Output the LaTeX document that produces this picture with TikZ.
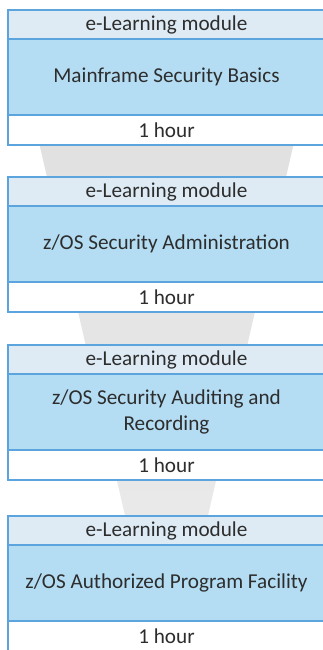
\documentclass[tikz,border=0pt]{standalone}
\usepackage{fontspec}
\setmainfont{Carlito}
\usetikzlibrary{positioning}

\definecolor{modline}{RGB}{91,164,222}
\definecolor{headfill}{RGB}{222,235,245}
\definecolor{titlefill}{RGB}{180,221,243}
\definecolor{modtext}{RGB}{45,45,45}
\definecolor{funneltop}{RGB}{222,222,222}
\definecolor{funnelbot}{RGB}{236,236,236}

\tikzset{
  modpart/.style={draw=modline, line width=1.3pt, minimum width=317pt, inner sep=0pt, outer sep=0pt,
    text=modtext, font=\fontsize{21.2}{26}\selectfont, align=center},
  modhead/.style={modpart, fill=headfill, minimum height=29pt},
  modtitle/.style={modpart, fill=titlefill, minimum height=76pt},
  modfoot/.style={modpart, fill=white, minimum height=30pt}
}

\begin{document}
\begin{tikzpicture}[x=1pt,y=-1pt]
\clip (0,0) rectangle (323,650);
\fill[white] (0,0) rectangle (323,650);
% funnel behind the modules
\shade[top color=funneltop, bottom color=funnelbot] (8.5,10) -- (324.5,10) -- (177,650) -- (156,650) -- cycle;

% module 1
\node[modhead] (head1) at (166.5,24.5) {e-Learning module};
\node[modtitle, below=0pt of head1] (title1) {Mainframe Security Basics};
\node[modfoot, below=0pt of title1] (foot1) {1 hour};

% module 2
\node[modhead] (head2) at (166.5,191.5) {e-Learning module};
\node[modtitle, below=0pt of head2] (title2) {z/OS Security Administration};
\node[modfoot, below=0pt of title2] (foot2) {1 hour};

% module 3
\node[modhead] (head3) at (166.5,359.5) {e-Learning module};
\node[modtitle, below=0pt of head3] (title3) {z/OS Security Auditing and\\Recording};
\node[modfoot, below=0pt of title3] (foot3) {1 hour};

% module 4
\node[modhead] (head4) at (166.5,530.5) {e-Learning module};
\node[modtitle, below=0pt of head4] (title4) {z/OS Authorized Program Facility};
\node[modfoot, below=0pt of title4] (foot4) {1 hour};
\end{tikzpicture}
\end{document}
